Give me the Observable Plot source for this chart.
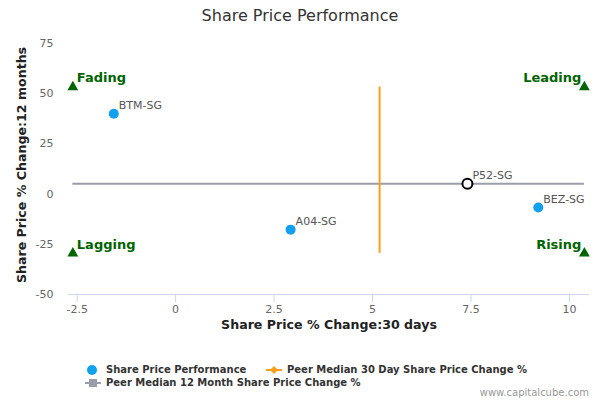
<!DOCTYPE html>
<html><head><meta charset="utf-8">
<script src="https://cdn.jsdelivr.net/npm/d3@7"></script>
<script src="https://cdn.jsdelivr.net/npm/@observablehq/plot@0.6"></script>
<style>
body{margin:0;font-family:"DejaVu Sans",sans-serif;background:#fff}
#wrap{position:relative;width:600px;height:400px;overflow:hidden}
#title{height:32px;line-height:32px;text-align:center;font-size:16px;color:#333}
#chart svg{display:block}
.lg{position:absolute;font-size:10px;font-weight:bold;color:#333;line-height:13px;white-space:nowrap}
.sym{position:absolute}
#footer{position:absolute;right:11px;top:387px;font-size:10px;color:#999;line-height:12px}
</style></head><body>
<div id="wrap">
  <div id="title">Share Price Performance</div>
  <div id="chart"></div>
  <svg class="sym" style="left:85px;top:363px" width="14" height="14"><circle cx="7" cy="7" r="5" fill="#11a0ec"/></svg>
  <div class="lg" style="left:106px;top:363px">Share Price Performance</div>
  <svg class="sym" style="left:266px;top:363px" width="16" height="14"><line x1="0" x2="16" y1="7" y2="7" stroke="#f8a01c" stroke-width="2"/><path d="M8 3 L12 7 L8 11 L4 7 Z" fill="#f8a01c"/></svg>
  <div class="lg" style="left:287px;top:363px">Peer Median 30 Day Share Price Change %</div>
  <svg class="sym" style="left:85px;top:376px" width="16" height="14"><line x1="0" x2="16" y1="7" y2="7" stroke="#9a9ea8" stroke-width="2"/><rect x="4" y="3" width="8" height="8" fill="#9a9ea8"/></svg>
  <div class="lg" style="left:106px;top:376px">Peer Median 12 Month Share Price Change %</div>
  <div id="footer">www.capitalcube.com</div>
</div>
<script>
// Data
const tickers = ["BTM-SG", "A04-SG", "BEZ-SG"];
const change30d = [-1.57, 2.92, 9.21];
const change12m = [40, -17.7, -6.7];
const companyTicker = ["P52-SG"];
const company30d = [7.41];
const company12m = [5.2];
const peerMedian30d = 5.18;
const peerMedian12m = 5.1;
const quadrantLabels = ["Fading", "Leading", "Lagging", "Rising"];
const quadrantX = [-2.61, 10.38, -2.61, 10.38];
const quadrantY = [53.3, 53.3, -29.5, -29.5];
const xTicks = [-2.5, 0, 2.5, 5, 7.5, 10];
const yTicks = [-50, -25, 0, 25, 50, 75];
const xLabel = "Share Price % Change:30 days";
const yLabel = "Share Price % Change:12 months";

const pts = tickers.map((t, i) => ({t, x: change30d[i], y: change12m[i]}));
const comp = companyTicker.map((t, i) => ({t, x: company30d[i], y: company12m[i]}));
const quads = quadrantLabels.map((t, i) => ({t, x: quadrantX[i], y: quadrantY[i], right: quadrantX[i] > 0}));
const fmt = d => String(d);

const chart = Plot.plot({
  width: 600,
  height: 330,
  marginTop: 11,
  marginBottom: 68,
  marginLeft: 68,
  marginRight: 11,
  style: {fontFamily: "DejaVu Sans, sans-serif", background: "#fff"},
  x: {domain: [-2.72, 10.51]},
  y: {domain: [-50, 75]},
  marks: [
    Plot.ruleY([-50], {stroke: "#ccd6eb", strokeWidth: 1}),
    Plot.axisX(xTicks, {tickSize: 8, stroke: "#ccd6eb", fill: "#666", fontSize: 11, tickPadding: 3, label: null, tickFormat: fmt}),
    Plot.axisY(yTicks, {tickSize: 0, tickPadding: 15, fill: "#666", fontSize: 11, label: null, tickFormat: fmt}),
    Plot.ruleY([peerMedian12m], {x1: d3.min(quadrantX), x2: d3.max(quadrantX), stroke: "#9a9ea8", strokeWidth: 2}),
    Plot.ruleX([peerMedian30d], {y1: d3.min(quadrantY), y2: d3.max(quadrantY), stroke: "#f8a01c", strokeWidth: 2}),
    Plot.dot(quads, {x: "x", y: "y", symbol: "triangle", r: 4, fill: "#006400"}),
    Plot.text(quads.filter(d => !d.right), {x: "x", y: "y", text: "t", textAnchor: "start", dx: 4, dy: -9, fill: "#006400", fontWeight: "bold", fontSize: 13}),
    Plot.text(quads.filter(d => d.right), {x: "x", y: "y", text: "t", textAnchor: "end", dx: -3, dy: -9, fill: "#006400", fontWeight: "bold", fontSize: 13}),
    Plot.dot(pts, {x: "x", y: "y", r: 5, fill: "#11a0ec"}),
    Plot.dot(comp, {x: "x", y: "y", r: 5, fill: "white", stroke: "#000", strokeWidth: 2}),
    Plot.text(pts.concat(comp), {x: "x", y: "y", text: "t", textAnchor: "start", dx: 5, dy: -8, fill: "#555", fontSize: 11}),
    Plot.text([xLabel], {text: d => d, frameAnchor: "bottom", dy: 34, fontWeight: "bold", fontSize: 12.6, fill: "#222"}),
    Plot.text([yLabel], {text: d => d, frameAnchor: "left", textAnchor: "middle", rotate: -90, dx: -47, dy: -4, fontWeight: "bold", fontSize: 12.6, fill: "#222"})
  ]
});
document.getElementById("chart").appendChild(chart);
</script>
</body></html>
